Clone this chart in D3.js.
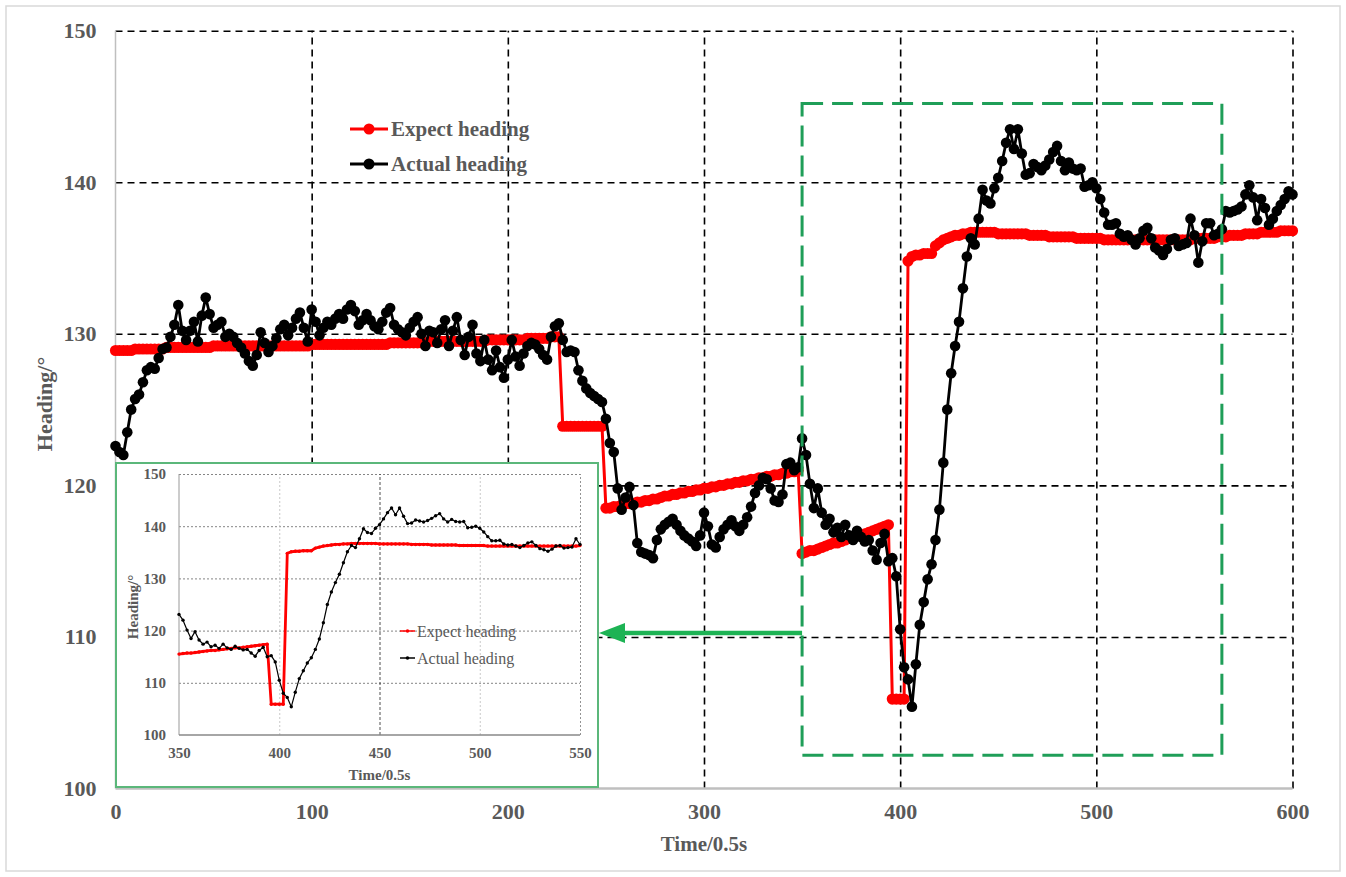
<!DOCTYPE html>
<html>
<head>
<meta charset="utf-8">
<script src="https://cdn.jsdelivr.net/npm/d3@7"></script>
<style>
  body { margin: 0; background: #fff; }
  text { font-family: "Liberation Serif", "Times New Roman", serif; font-weight: bold; fill: #595959; }
</style>
</head>
<body>
<div id="chart"></div>
<script>
// sampled every 2 units of Time/0.5s, from 0 to 600
const step = 2;

const actualHeading = [
  122.6, 122.2, 122.0, 123.5, 125.0, 125.7, 126.0, 126.8, 127.6, 127.8, // 0
  127.7, 128.4, 129.0, 129.1, 129.8, 130.6, 131.9, 130.2, 129.6, 130.2, // 20
  130.8, 129.5, 131.2, 132.4, 131.3, 130.4, 130.6, 130.8, 129.8, 130.0, // 40
  129.8, 129.4, 129.1, 128.7, 128.2, 127.9, 128.6, 130.1, 129.4, 128.8, // 60
  129.2, 129.7, 130.3, 130.6, 129.9, 130.4, 131.0, 131.4, 130.4, 129.5, // 80
  131.6, 130.8, 129.9, 130.4, 130.8, 130.6, 131.0, 131.3, 131.0, 131.6, // 100
  131.9, 131.5, 130.6, 130.9, 131.3, 130.9, 130.5, 130.3, 130.8, 131.4, // 120
  131.7, 130.6, 130.3, 130.1, 129.9, 130.4, 130.8, 131.1, 130.0, 129.2, // 140
  130.2, 130.1, 129.4, 130.3, 130.9, 129.2, 130.2, 131.1, 129.6, 128.6, // 160
  129.8, 130.6, 128.7, 128.2, 129.6, 128.3, 127.6, 128.9, 127.8, 127.1, // 180
  128.3, 129.6, 128.5, 127.9, 128.7, 129.2, 129.4, 129.3, 129.0, 128.6, // 200
  128.3, 129.8, 130.5, 130.7, 129.6, 128.8, 128.9, 128.8, 127.6, 126.9, // 220
  126.4, 126.1, 125.9, 125.7, 125.5, 124.4, 122.8, 122.2, 119.8, 118.4, // 240
  119.2, 119.9, 118.7, 116.2, 115.6, 115.5, 115.4, 115.2, 116.4, 117.1, // 260
  117.4, 117.6, 117.8, 117.4, 117.0, 116.7, 116.5, 116.3, 116.0, 116.7, // 280
  118.2, 117.3, 116.1, 115.9, 116.6, 117.1, 117.4, 117.7, 117.3, 117.0, // 300
  117.4, 117.9, 118.6, 119.5, 120.0, 120.5, 120.4, 119.8, 119.0, 118.9, // 320
  119.4, 121.4, 121.5, 121.0, 121.2, 123.1, 122.0, 120.1, 118.5, 119.8, // 340
  118.2, 117.4, 117.8, 116.9, 117.2, 116.6, 117.4, 116.7, 116.4, 117.0, // 360
  116.6, 116.3, 116.4, 115.7, 115.1, 116.2, 116.8, 115.0, 115.2, 114.0, // 380
  110.5, 108.0, 107.2, 105.4, 108.2, 110.8, 112.3, 113.8, 114.8, 116.4, // 400
  118.4, 121.5, 125.0, 127.4, 129.2, 130.8, 133.0, 135.1, 136.3, 135.9, // 420
  137.6, 139.5, 138.8, 138.6, 139.6, 140.3, 141.4, 142.6, 143.5, 142.2, // 440
  143.5, 141.9, 140.5, 140.6, 141.2, 141.0, 140.8, 141.1, 141.5, 142.0, // 460
  142.4, 141.4, 140.8, 141.3, 140.9, 140.8, 140.9, 139.7, 139.8, 140.0, // 480
  139.6, 138.9, 138.0, 137.2, 137.2, 137.3, 136.6, 136.4, 136.5, 136.2, // 500
  135.9, 136.3, 136.8, 137.0, 136.3, 135.7, 135.5, 135.2, 135.6, 136.2, // 520
  136.3, 135.8, 135.9, 136.0, 137.6, 136.5, 134.7, 136.1, 137.3, 137.3, // 540
  136.5, 136.6, 136.9, 138.1, 138.0, 138.1, 138.2, 138.4, 139.2, 139.8, // 560
  139.0, 137.5, 138.9, 138.3, 137.2, 137.6, 138.1, 138.5, 138.9, 139.4, // 580
  139.2                                                                 // 600
];

const expectHeading = [
  128.9, 128.9, 128.9, 128.9, 128.9, 129.0, 129.0, 129.0, 129.0, 129.0, // 0
  129.0, 129.0, 129.0, 129.1, 129.1, 129.1, 129.1, 129.1, 129.1, 129.1, // 20
  129.1, 129.1, 129.1, 129.1, 129.1, 129.2, 129.2, 129.2, 129.2, 129.2, // 40
  129.2, 129.2, 129.2, 129.2, 129.2, 129.2, 129.2, 129.2, 129.2, 129.2, // 60
  129.2, 129.2, 129.2, 129.2, 129.2, 129.2, 129.2, 129.2, 129.2, 129.2, // 80
  129.3, 129.3, 129.3, 129.3, 129.3, 129.3, 129.3, 129.3, 129.3, 129.3, // 100
  129.3, 129.3, 129.3, 129.3, 129.3, 129.3, 129.3, 129.3, 129.3, 129.3, // 120
  129.4, 129.4, 129.4, 129.4, 129.4, 129.4, 129.4, 129.4, 129.4, 129.4, // 140
  129.5, 129.5, 129.5, 129.5, 129.5, 129.5, 129.5, 129.5, 129.5, 129.5, // 160
  129.5, 129.5, 129.5, 129.5, 129.5, 129.6, 129.6, 129.6, 129.6, 129.6, // 180
  129.6, 129.6, 129.6, 129.6, 129.6, 129.7, 129.7, 129.7, 129.7, 129.7, // 200
  129.7, 129.8, 129.8, 129.8, 123.9, 123.9, 123.9, 123.9, 123.9, 123.9, // 220
  123.9, 123.9, 123.9, 123.9, 123.9, 118.5, 118.5, 118.6, 118.6, 118.7, // 240
  118.8, 118.8, 118.8, 118.9, 118.9, 119.0, 119.0, 119.1, 119.1, 119.2, // 260
  119.3, 119.3, 119.4, 119.4, 119.5, 119.5, 119.6, 119.6, 119.7, 119.7, // 280
  119.8, 119.8, 119.9, 119.9, 120.0, 120.0, 120.1, 120.1, 120.2, 120.2, // 300
  120.3, 120.3, 120.4, 120.4, 120.5, 120.5, 120.6, 120.6, 120.7, 120.7, // 320
  120.8, 120.8, 120.9, 120.9, 121.0, 115.5, 115.6, 115.7, 115.7, 115.8, // 340
  115.9, 116.0, 116.1, 116.2, 116.2, 116.3, 116.4, 116.5, 116.6, 116.7, // 360
  116.7, 116.8, 116.9, 117.0, 117.1, 117.2, 117.3, 117.4, 105.9, 105.9, // 380
  105.9, 105.9, 134.8, 135.1, 135.2, 135.2, 135.3, 135.3, 135.3, 135.8, // 400
  136.0, 136.2, 136.3, 136.4, 136.5, 136.5, 136.6, 136.6, 136.7, 136.7, // 420
  136.7, 136.7, 136.7, 136.7, 136.7, 136.6, 136.6, 136.6, 136.6, 136.6, // 440
  136.6, 136.6, 136.6, 136.5, 136.5, 136.5, 136.5, 136.5, 136.4, 136.4, // 460
  136.4, 136.4, 136.4, 136.4, 136.4, 136.3, 136.3, 136.3, 136.3, 136.3, // 480
  136.3, 136.3, 136.2, 136.2, 136.2, 136.2, 136.2, 136.2, 136.2, 136.2, // 500
  136.2, 136.2, 136.2, 136.2, 136.2, 136.2, 136.2, 136.2, 136.2, 136.2, // 520
  136.2, 136.2, 136.2, 136.2, 136.2, 136.3, 136.3, 136.3, 136.3, 136.3, // 540
  136.3, 136.4, 136.4, 136.4, 136.5, 136.5, 136.5, 136.5, 136.6, 136.6, // 560
  136.6, 136.6, 136.7, 136.7, 136.7, 136.7, 136.7, 136.8, 136.8, 136.8, // 580
  136.8                                                                 // 600
];

const xTicks = [0, 100, 200, 300, 400, 500, 600];
const yTicks = [100, 110, 120, 130, 140, 150];
const insetXTicks = [350, 400, 450, 500, 550];
const insetRange = [350, 550];
const seriesNames = ["Expect heading", "Actual heading"];
const seriesColors = ["#ff0000", "#000000"];
// zoomed window marked on the main chart (time, heading)
const zoomBox = [350, 564, 102.2, 145.2];

const width = 1346;
const height = 877;

const svg = d3.select("#chart").append("svg")
    .attr("width", width)
    .attr("height", height);

svg.append("rect")
    .attr("x", 6).attr("y", 6)
    .attr("width", width - 12).attr("height", height - 12)
    .attr("fill", "#fff")
    .attr("stroke", "#d9d9d9")
    .attr("stroke-width", 1.5);

const toPoints = vals => vals.map((v, i) => ({t: i * step, v: v}));
const expectData = toPoints(expectHeading);
const actualData = toPoints(actualHeading);

const x = d3.scaleLinear().domain([0, 600]).range([115.5, 1292.5]);
const y = d3.scaleLinear().domain([100, 150]).range([788.5, 30.7]);

// grid via axes
const gy = svg.append("g")
    .attr("transform", `translate(${x(0)},0)`)
    .call(d3.axisLeft(y).tickValues(yTicks).tickSize(-(x(600) - x(0))).tickPadding(19));
gy.select(".domain").remove();
gy.selectAll(".tick line")
    .attr("stroke", "#000")
    .attr("stroke-width", 1.6)
    .attr("stroke-dasharray", "7,5")
    .attr("opacity", d => d === 100 ? 0 : 1);
gy.selectAll(".tick text").style("font-size", "22px");

const gx = svg.append("g")
    .attr("transform", `translate(0,${y(100)})`)
    .call(d3.axisBottom(x).tickValues(xTicks).tickSize(-(y(100) - y(150))).tickPadding(15));
gx.select(".domain").remove();
gx.selectAll(".tick line")
    .attr("stroke", "#000")
    .attr("stroke-width", 1.6)
    .attr("stroke-dasharray", "7,5")
    .attr("opacity", d => d === 0 ? 0 : 1);
gx.selectAll(".tick text").style("font-size", "22px");

svg.append("line")
    .attr("x1", x(0)).attr("x2", x(0))
    .attr("y1", y(150)).attr("y2", y(100))
    .attr("stroke", "#bfbfbf").attr("stroke-width", 1.5);
svg.append("line")
    .attr("x1", x(0)).attr("x2", x(600))
    .attr("y1", y(100)).attr("y2", y(100))
    .attr("stroke", "#bfbfbf").attr("stroke-width", 2.5);

svg.append("text")
    .attr("x", (x(0) + x(600)) / 2)
    .attr("y", 851)
    .attr("text-anchor", "middle")
    .style("font-size", "21px")
    .text("Time/0.5s");

svg.append("text")
    .attr("transform", "translate(52,404) rotate(-90)")
    .attr("text-anchor", "middle")
    .style("font-size", "22px")
    .text("Heading/°");

function drawSeries(g, xs, ys, data, color, lineWidth, r) {
  const line = d3.line().x(d => xs(d.t)).y(d => ys(d.v));
  g.append("path")
      .datum(data)
      .attr("fill", "none")
      .attr("stroke", color)
      .attr("stroke-width", lineWidth)
      .attr("stroke-linejoin", "round")
      .attr("d", line);
  g.append("g")
    .selectAll("circle")
    .data(data)
    .join("circle")
      .attr("cx", d => xs(d.t))
      .attr("cy", d => ys(d.v))
      .attr("r", r)
      .attr("fill", color);
}

const main = svg.append("g");
drawSeries(main, x, y, expectData, seriesColors[0], 3, 5.6);
drawSeries(main, x, y, actualData, seriesColors[1], 2.8, 5.3);

// legend
const legend = svg.append("g")
  .selectAll("g")
  .data(seriesNames)
  .join("g")
    .attr("transform", (d, i) => `translate(350,${129 + i * 35})`);
legend.append("line")
    .attr("x1", 0).attr("x2", 38)
    .attr("stroke", (d, i) => seriesColors[i])
    .attr("stroke-width", 3);
legend.append("circle")
    .attr("cx", 19).attr("r", 5.5)
    .attr("fill", (d, i) => seriesColors[i]);
legend.append("text")
    .attr("x", 41).attr("dy", "0.35em")
    .style("font-size", "21px")
    .text(d => d);

// zoom window + arrow
svg.append("rect")
    .attr("x", x(zoomBox[0])).attr("y", y(zoomBox[3]))
    .attr("width", x(zoomBox[1]) - x(zoomBox[0]))
    .attr("height", y(zoomBox[2]) - y(zoomBox[3]))
    .attr("fill", "none")
    .attr("stroke", "#1f9e58")
    .attr("stroke-width", 3)
    .attr("stroke-dasharray", "21,9");

// inset
const inset = {left: 116, top: 463, right: 598, bottom: 787};
const arrowY = 633;
svg.append("line")
    .attr("x1", x(zoomBox[0])).attr("x2", inset.right + 24)
    .attr("y1", arrowY).attr("y2", arrowY)
    .attr("stroke", "#1db354").attr("stroke-width", 4.5);
svg.append("path")
    .attr("d", `M${inset.right + 1},${arrowY} L${inset.right + 27},${arrowY - 10} L${inset.right + 27},${arrowY + 10} Z`)
    .attr("fill", "#1db354");

svg.append("rect")
    .attr("x", inset.left).attr("y", inset.top)
    .attr("width", inset.right - inset.left)
    .attr("height", inset.bottom - inset.top)
    .attr("fill", "#fff")
    .attr("stroke", "#5bb77a")
    .attr("stroke-width", 2);

const ix = d3.scaleLinear().domain(insetRange).range([179, 580]);
const iy = d3.scaleLinear().domain([100, 150]).range([735, 474]);

const igy = svg.append("g")
    .attr("transform", `translate(${ix(350)},0)`)
    .call(d3.axisLeft(iy).tickValues(yTicks).tickSize(-(ix(550) - ix(350))).tickPadding(13));
igy.select(".domain").remove();
igy.selectAll(".tick line")
    .attr("stroke", "#666")
    .attr("stroke-width", 0.8)
    .attr("stroke-dasharray", "2,2")
    .attr("opacity", d => d === 100 ? 0 : 1);
igy.selectAll(".tick text").style("font-size", "15px");

const igx = svg.append("g")
    .attr("transform", `translate(0,${iy(100)})`)
    .call(d3.axisBottom(ix).tickValues(insetXTicks).tickSize(-(iy(100) - iy(150))).tickPadding(12));
igx.select(".domain").remove();
igx.selectAll(".tick line")
    .attr("stroke", d => d === 450 ? "#222" : d === 550 ? "#777" : "#bbb")
    .attr("stroke-width", 0.8)
    .attr("stroke-dasharray", d => d === 450 ? "3,2" : "2,2")
    .attr("opacity", d => d === 350 ? 0 : 1);
igx.selectAll(".tick text").style("font-size", "15px");

svg.append("line")
    .attr("x1", ix(350)).attr("x2", ix(350))
    .attr("y1", iy(150)).attr("y2", iy(100))
    .attr("stroke", "#999").attr("stroke-width", 1);
svg.append("line")
    .attr("x1", ix(350)).attr("x2", ix(550))
    .attr("y1", iy(100)).attr("y2", iy(100))
    .attr("stroke", "#888").attr("stroke-width", 1.5);

svg.append("text")
    .attr("x", (ix(350) + ix(550)) / 2)
    .attr("y", 780)
    .attr("text-anchor", "middle")
    .style("font-size", "15px")
    .text("Time/0.5s");

svg.append("text")
    .attr("transform", "translate(138,607) rotate(-90)")
    .attr("text-anchor", "middle")
    .style("font-size", "15px")
    .text("Heading/°");

const inRange = d => d.t >= insetRange[0] && d.t <= insetRange[1];
const ig = svg.append("g");
drawSeries(ig, ix, iy, expectData.filter(inRange), seriesColors[0], 2.8, 1.7);
drawSeries(ig, ix, iy, actualData.filter(inRange), seriesColors[1], 1.2, 1.7);

const ilegend = svg.append("g")
  .selectAll("g")
  .data(seriesNames)
  .join("g")
    .attr("transform", (d, i) => `translate(400,${631 + i * 27})`);
ilegend.append("line")
    .attr("x1", 0).attr("x2", 15)
    .attr("stroke", (d, i) => seriesColors[i])
    .attr("stroke-width", 1.5);
ilegend.append("circle")
    .attr("cx", 7.5).attr("r", 1.8)
    .attr("fill", (d, i) => seriesColors[i]);
ilegend.append("text")
    .attr("x", 17).attr("dy", "0.35em")
    .style("font-size", "16px")
    .style("font-weight", "normal")
    .text(d => d);
</script>
</body>
</html>
